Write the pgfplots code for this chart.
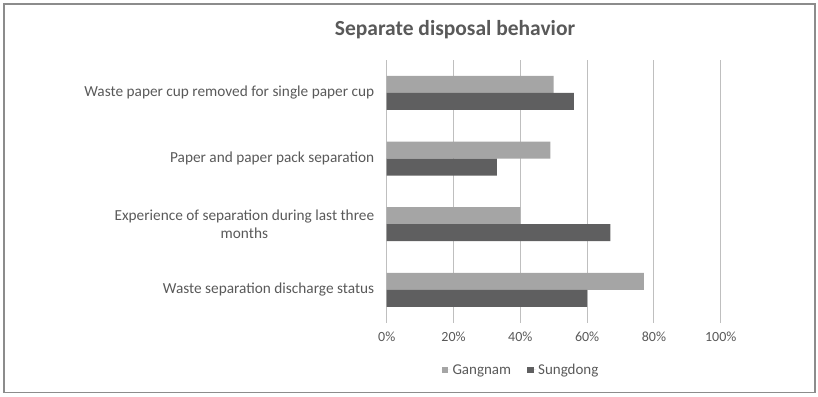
\documentclass[border=0pt]{standalone}
\usepackage{pgfplots}
\pgfplotsset{compat=1.18}
\usepackage{fontspec}
\setmainfont{Carlito}
\definecolor{txt}{HTML}{595959}
\definecolor{gA}{HTML}{A5A5A5}
\definecolor{gB}{HTML}{5F5F60}
\definecolor{grid}{HTML}{D9D9D9}
\definecolor{frame}{HTML}{8C8C8C}
\begin{document}
\begin{tikzpicture}[x=1bp,y=1bp]
\path (0,0) rectangle (818,396);
\draw[frame, line width=1.3bp] (4,392) rectangle (815,3.3);
\node[txt, font=\fontsize{21.5bp}{24bp}\selectfont\bfseries] at (455,366) {Separate disposal behavior};
\begin{axis}[
  at={(386.7bp,73.3bp)}, anchor=south west,
  scale only axis, width=334bp, height=262.7bp,
  xbar, bar width=17bp,
  xmin=0, xmax=100, ymin=-0.5, ymax=3.5,
  xtick={0,20,40,60,80,100},
  xticklabels={0\%,20\%,40\%,60\%,80\%,100\%},
  ytick={0,1,2,3},
  yticklabels={Waste separation discharge status,{Experience of separation during last three\\months},Paper and paper pack separation,Waste paper cup removed for single paper cup},
  major tick length=0pt,
  axis line style={draw=none},
  xmajorgrids, ymajorgrids=false, grid style={grid, line width=1bp},
  tick label style={txt},
  xticklabel style={font=\fontsize{14bp}{16bp}\selectfont, yshift=-6bp},
  yticklabel style={font=\fontsize{15.3bp}{17.6bp}\selectfont, align=center, xshift=-9bp},
  legend style={at={(0.402,-0.180)}, anchor=center, draw=none, fill=none,
    font=\fontsize{15bp}{17bp}\selectfont, text=txt, legend columns=2,
    /tikz/every even column/.append style={column sep=14bp}},
  legend cell align=left,
  legend image code/.code={\fill[#1] (0bp,-3.2bp) rectangle (6.5bp,3.2bp); \path (0bp,0bp) -- (9bp,0bp);},
]
\addplot[draw=none, fill=gA, bar shift=8.5bp] coordinates {(77,0) (40,1) (49,2) (50,3)};
\addplot[draw=none, fill=gB, bar shift=-8.5bp] coordinates {(60,0) (67,1) (33,2) (56,3)};
\legend{Gangnam,Sungdong}
\end{axis}
\end{tikzpicture}
\end{document}
